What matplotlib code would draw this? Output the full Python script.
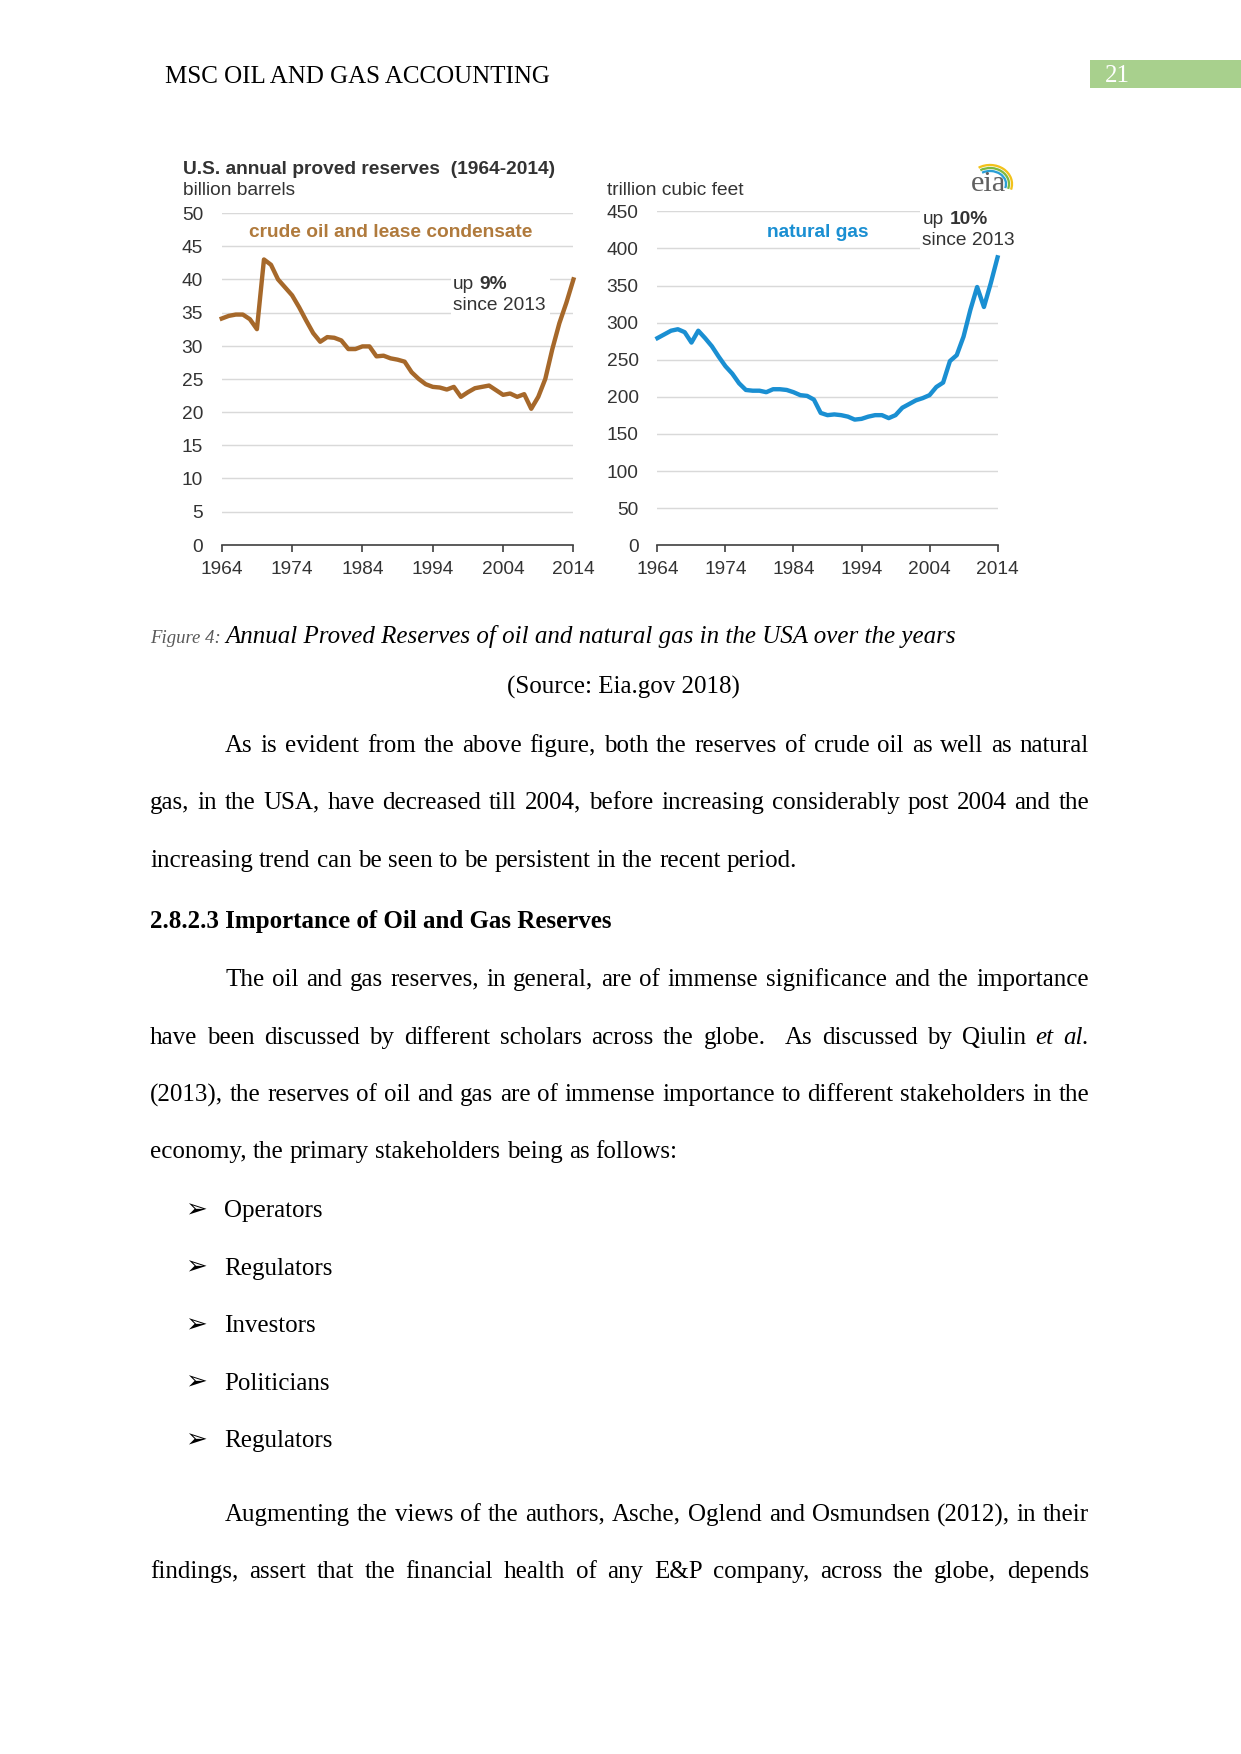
import matplotlib
matplotlib.use("Agg")
import matplotlib.pyplot as plt
from matplotlib.transforms import IdentityTransform
from matplotlib.patches import Rectangle, Arc
from matplotlib.backends.backend_agg import get_hinting_flag

W, H = 1241, 1754
DPI = 150

# chart data
years = list(range(1964, 2015))
oil_reserves = [34.1, 34.5, 34.7, 34.7, 34.0, 32.5, 43.0, 42.2, 40.0, 38.8,
                37.6, 35.8, 33.8, 31.9, 30.6, 31.3, 31.2, 30.8, 29.5, 29.5,
                29.9, 29.9, 28.4, 28.5, 28.1, 27.9, 27.6, 26.0, 25.0, 24.2,
                23.8, 23.7, 23.4, 23.8, 22.3, 23.0, 23.6, 23.8, 24.0, 23.3,
                22.6, 22.8, 22.3, 22.7, 20.5, 22.3, 25.0, 29.5, 33.4, 36.5,
                40.0]
gas_reserves = [279, 284, 289, 291, 287, 273, 289, 279, 268, 254,
                241, 231, 218, 209, 208, 208, 206, 210, 210, 209,
                206, 202, 201, 196, 178, 175, 176, 175, 173, 169,
                170, 173, 175, 175, 171, 175, 185, 190, 195, 198,
                202, 213, 219, 248, 256, 281, 317, 348, 321, 353,
                388]
decade_ticks = [1964, 1974, 1984, 1994, 2004, 2014]
oil_yticks = list(range(0, 51, 5))
gas_yticks = list(range(0, 451, 50))

# page text
header = "MSC OIL AND GAS ACCOUNTING"
page_no = "21"
caption_label = "Figure 4:"
caption = "Annual Proved Reserves of oil and natural gas in the USA over the years"
source = "(Source: Eia.gov 2018)"
para1 = ["As is evident from the above figure, both the reserves of crude oil as well as natural",
         "gas, in the USA, have decreased till 2004, before increasing considerably post 2004 and the",
         "increasing trend can be seen to be persistent in the recent period."]
heading = "2.8.2.3 Importance of Oil and Gas Reserves"
para2 = ["The oil and gas reserves, in general, are of immense significance and the importance",
         "have been discussed by different scholars across the globe.  As discussed by Qiulin et al.",
         "(2013), the reserves of oil and gas are of immense importance to different stakeholders in the",
         "economy, the primary stakeholders being as follows:"]
bullets = ["Operators", "Regulators", "Investors", "Politicians", "Regulators"]
para3 = ["Augmenting the views of the authors, Asche, Oglend and Osmundsen (2012), in their",
         "findings, assert that the financial health of any E&P company, across the globe, depends"]

plt.rcParams['font.family'] = 'Liberation Sans'
fig = plt.figure(figsize=(W / DPI + 0.002, H / DPI + 0.002), dpi=DPI)
renderer = fig.canvas.get_renderer()

OIL = '#a6682a'
GAS = '#1a8fd2'
INK = '#333333'
FS = 9.2  # chart font size
BODY = dict(family='Liberation Serif', size=12, color='black')


def put(x, y, s, **kw):
    # x, y in page pixels, y measured from the top
    return fig.text(x, H - y, s, transform=IdentityTransform(), **kw)


def width_of(s, **kw):
    t = put(0, 0, s, **kw)
    w = t.get_window_extent(renderer).width
    t.remove()
    return w


def snapped(word, y, **kw):
    # Agg drops each word's bitmap on whole pixels from its own descent,
    # so shift y a little so all words of a line sit on the same row
    t = put(0, 0, word, **kw)
    font = renderer._prepare_font(t.get_fontproperties())
    t.remove()
    font.set_text(word, 0, flags=get_hinting_flag())
    font.draw_glyphs_to_bitmap()
    h_img = font.get_image().shape[0]
    d26 = font.get_descent()
    ymax26 = font.get_width_height()[1] - d26
    row = int(ymax26 / 64) + 1
    k = round(y) - 1 + h_img - row
    return k - d26 / 64


def text_line(line, x0, y, x1=None, italic_words=()):
    words = line.split(' ')
    kws = [dict(BODY, style='italic' if w in italic_words else 'normal') for w in words]
    widths = [width_of(w, **k) if w else 0 for w, k in zip(words, kws)]
    gap = width_of('a a', **BODY) - width_of('aa', **BODY)
    if x1 is not None and len(words) > 1:
        gap = (x1 - x0 - sum(widths)) / (len(words) - 1)
    x = x0
    for w, k, wd in zip(words, kws, widths):
        if w:
            put(x, snapped(w, y, **k), w, va='baseline', **k)
        x += wd + gap


def chart_axes(x0, x1, ytop, ybot):
    return fig.add_axes([x0 / W, 1 - ybot / H, (x1 - x0) / W, (ybot - ytop) / H])


def style_chart(ax, yticks):
    ax.set_xlim(1964, 2014)
    ax.set_ylim(yticks[0], yticks[-1])
    ax.set_xticks(decade_ticks)
    ax.set_yticks(yticks)
    for side in ['left', 'right', 'top']:
        ax.spines[side].set_visible(False)
    ax.spines['bottom'].set_color('#404040')
    ax.spines['bottom'].set_linewidth(0.8)
    ax.tick_params(axis='x', length=3.5, width=0.8, color='#404040', pad=4,
                   labelsize=FS, labelcolor=INK)
    ax.tick_params(axis='y', length=0, pad=9, labelsize=FS, labelcolor=INK)
    ax.yaxis.grid(True, color='#d9d9d9', lw=0.7)
    ax.set_axisbelow(True)
    ax.patch.set_alpha(0)


# ---- left chart: crude oil
ax1 = chart_axes(221.7, 573.3, 213.3, 545)
style_chart(ax1, oil_yticks)
ax1.add_patch(Rectangle((1996.6, 33.2), 14.0, 9.0, facecolor='white', edgecolor='none', zorder=1))
ax1.plot(years, oil_reserves, color=OIL, lw=2.1, zorder=3, clip_on=False, solid_joinstyle='round')

# ---- right chart: natural gas
ax2 = chart_axes(657.3, 997.3, 211.7, 545)
style_chart(ax2, gas_yticks)
ax2.add_patch(Rectangle((2002.6, 395), 11.4, 60, facecolor='white', edgecolor='none', zorder=1))
ax2.plot(years, gas_reserves, color=GAS, lw=2.1, zorder=3, clip_on=False, solid_joinstyle='round')

# chart labels
put(182.7, 173.5, "U.S. annual proved reserves  (1964-2014)", size=FS, weight='bold', color=INK)
put(182.7, 195, "billion barrels", size=FS, color=INK)
put(391, 237, "crude oil and lease condensate", size=FS, weight='bold', color='#b07a3c', ha='center')
put(452.7, 288.5, "up", size=FS, color=INK)
put(479.5, 288.5, "9%", size=FS, weight='bold', color=INK)
put(452.7, 309.5, "since 2013", size=FS, color=INK)

put(607.3, 195, "trillion cubic feet", size=FS, color=INK)
put(818, 237, "natural gas", size=FS, weight='bold', color=GAS, ha='center')
put(922.3, 224, "up", size=FS, color=INK)
put(950, 224, "10%", size=FS, weight='bold', color=INK)
put(922.3, 245, "since 2013", size=FS, color=INK)

# eia logo
put(971, 191, "eia", family='Liberation Serif', size=14.5, color='#606060')
for r, c in [(19, '#f2c21b'), (16, '#7cb842'), (13, '#2a9fd6')]:
    fig.add_artist(Arc((990, H - 184), 2 * r + 6, 2 * r, theta1=-15, theta2=125,
                       color=c, lw=1.1, transform=IdentityTransform()))

# ---- page header
put(165, 83, header, **BODY)
fig.add_artist(Rectangle((1090, H - 88), 151, 28, facecolor='#a8d08d', edgecolor='none',
                         transform=IdentityTransform()))
put(1105, 82, page_no, family='Liberation Serif', size=12, color='white')

# ---- caption
put(150, 643, caption_label, family='Liberation Serif', size=9, style='italic', color='#595959')
put(225, 643, caption, family='Liberation Serif', size=12, style='italic', color='black')
put(623, 693, source, ha='center', **BODY)

# ---- body text
LEFT, INDENT, RIGHT = 150, 225, 1089
STEP = 57.5


def paragraph(lines, y0, italic_words=(), last_full=False):
    for i, line in enumerate(lines):
        x0 = INDENT if i == 0 else LEFT
        last = i == len(lines) - 1 and not last_full
        text_line(line, x0, y0 + i * STEP, None if last else RIGHT, italic_words)


paragraph(para1, 751.7)
put(150, 928, heading, weight='bold', **BODY)
paragraph(para2, 986, italic_words=('et', 'al.'))

for i, item in enumerate(bullets):
    y = 1216.7 + i * STEP
    put(185, y, "\u27a2", family='DejaVu Sans', size=12.5, color='black', va='baseline')
    put(224, y, item, va='baseline', **BODY)

paragraph(para3, 1521, last_full=True)

fig.savefig("out.png", dpi=DPI, facecolor='white')
